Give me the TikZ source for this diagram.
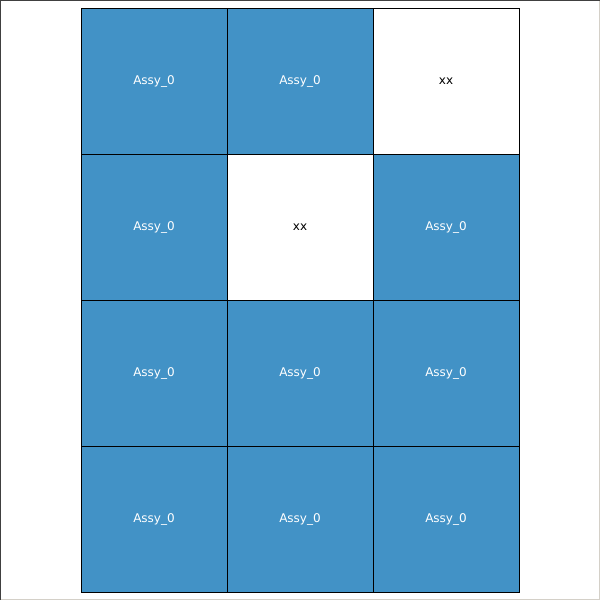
\documentclass[tikz,border=0pt]{standalone}
\usepackage{fontspec}
\setmainfont{DejaVu Sans}
\definecolor{cellblue}{HTML}{4292C6}
\definecolor{darkframe}{HTML}{404040}
\definecolor{lightframe}{HTML}{D4D0C8}
\tikzset{
  bluecell/.style={draw=black, line width=1pt, fill=cellblue, minimum width=146pt, minimum height=146pt, inner sep=0pt, outer sep=0pt, text=white, font=\fontsize{12}{14}\selectfont},
  whitecell/.style={bluecell, fill=white, text=black}
}
\begin{document}
\begin{tikzpicture}[x=1pt,y=1pt]
\useasboundingbox (0,0) rectangle (600,600);
\fill[white] (0,0) rectangle (600,600);
\draw[lightframe, line width=1pt] (0,0.5) -- (599.5,0.5) -- (599.5,600);
\draw[darkframe, line width=1pt] (0.5,0) -- (0.5,599.5) -- (600,599.5);
\node[bluecell] (r1c1) at (154,518.5) {Assy\_0};
\node[bluecell] (r1c2) at (300,518.5) {Assy\_0};
\node[whitecell] (r1c3) at (446,518.5) {xx};
\node[bluecell] (r2c1) at (154,372.5) {Assy\_0};
\node[whitecell] (r2c2) at (300,372.5) {xx};
\node[bluecell] (r2c3) at (446,372.5) {Assy\_0};
\node[bluecell] (r3c1) at (154,226.5) {Assy\_0};
\node[bluecell] (r3c2) at (300,226.5) {Assy\_0};
\node[bluecell] (r3c3) at (446,226.5) {Assy\_0};
\node[bluecell] (r4c1) at (154,80.5) {Assy\_0};
\node[bluecell] (r4c2) at (300,80.5) {Assy\_0};
\node[bluecell] (r4c3) at (446,80.5) {Assy\_0};
\end{tikzpicture}
\end{document}
